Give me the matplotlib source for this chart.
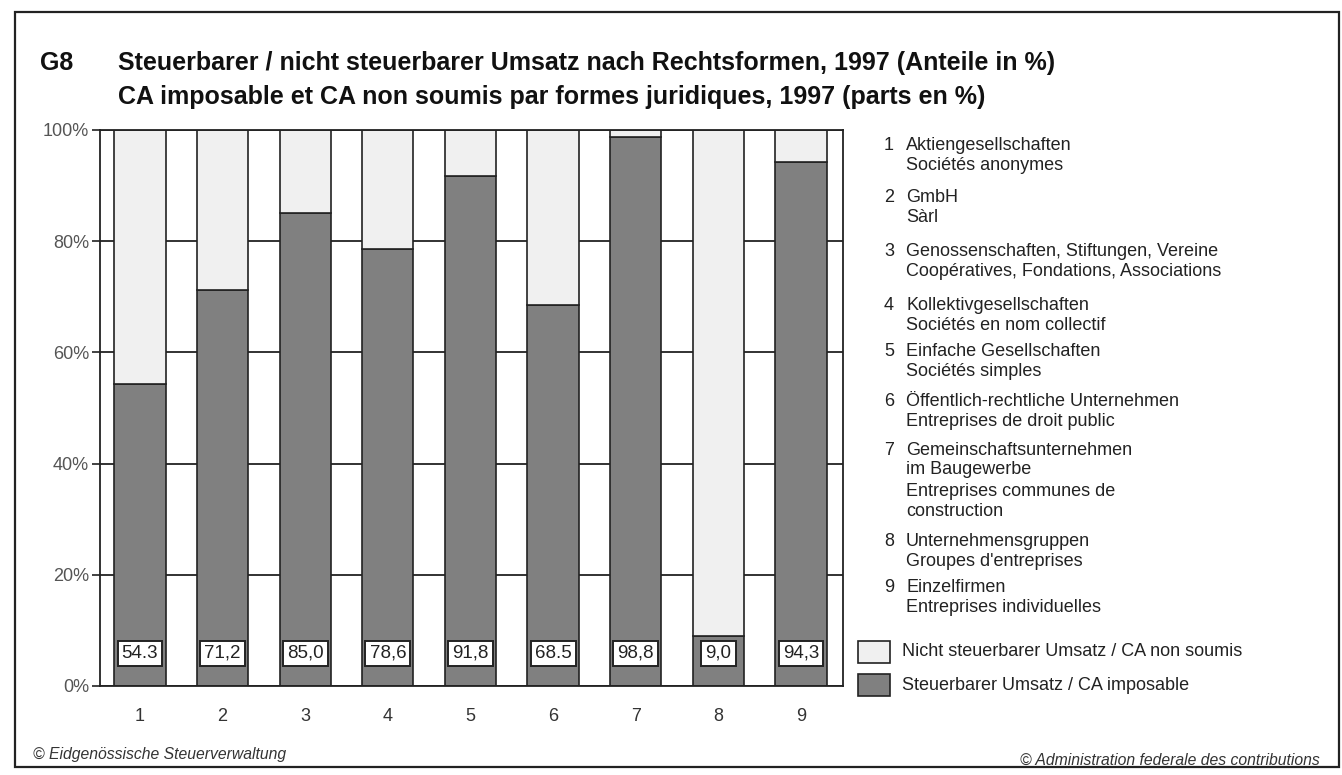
import matplotlib
matplotlib.use('Agg')
import matplotlib.pyplot as plt
from matplotlib.patches import Rectangle
import numpy as np

plt.rcParams['font.family'] = ['Liberation Sans', 'DejaVu Sans']

# data
categories = ['1', '2', '3', '4', '5', '6', '7', '8', '9']
taxable = [54.3, 71.2, 85.0, 78.6, 91.8, 68.5, 98.8, 9.0, 94.3]
value_labels = ['54.3', '71,2', '85,0', '78,6', '91,8', '68.5', '98,8', '9,0', '94,3']
legend_items = [
    ('1', ['Aktiengesellschaften', 'Sociétés anonymes']),
    ('2', ['GmbH', 'Sàrl']),
    ('3', ['Genossenschaften, Stiftungen, Vereine', 'Coopératives, Fondations, Associations']),
    ('4', ['Kollektivgesellschaften', 'Sociétés en nom collectif']),
    ('5', ['Einfache Gesellschaften', 'Sociétés simples']),
    ('6', ['Öffentlich-rechtliche Unternehmen', 'Entreprises de droit public']),
    ('7', ['Gemeinschaftsunternehmen', 'im Baugewerbe', 'Entreprises communes de', 'construction']),
    ('8', ['Unternehmensgruppen', "Groupes d'entreprises"]),
    ('9', ['Einzelfirmen', 'Entreprises individuelles']),
]
series_names = ['Nicht steuerbarer Umsatz / CA non soumis', 'Steuerbarer Umsatz / CA imposable']
yticks = [0, 20, 40, 60, 80, 100]

dark = '#808080'
light = '#f0f0f0'

W, H = 1342, 775
fig = plt.figure(figsize=(W / 100, H / 100), dpi=100)

def fx(px):
    return px / W

def fy(py):
    return 1 - py / H

# frame around everything
fig.add_artist(Rectangle((fx(15), fy(767)), fx(1339) - fx(15), fy(12) - fy(767),
                         transform=fig.transFigure, fill=False, edgecolor='#222222', lw=1.6))

# title
title_kw = dict(fontsize=18, fontweight='bold', va='center', ha='left', color='#111111')
fig.text(fx(40), fy(63), 'G8', **title_kw)
fig.text(fx(118), fy(63), 'Steuerbarer / nicht steuerbarer Umsatz nach Rechtsformen, 1997 (Anteile in %)', **title_kw)
fig.text(fx(118), fy(97), 'CA imposable et CA non soumis par formes juridiques, 1997 (parts en %)', **title_kw)

ax = fig.add_axes([fx(100), fy(686), fx(843) - fx(100), fy(130) - fy(686)])
x = np.arange(1, len(categories) + 1)
rest = [100 - v for v in taxable]

ax.set_axisbelow(True)
ax.yaxis.grid(True, color='#222222', lw=1.3)
ax.bar(x, taxable, width=0.62, color=dark, edgecolor='#222222', lw=1.2, zorder=2)
ax.bar(x, rest, bottom=taxable, width=0.62, color=light, edgecolor='#222222', lw=1.2, zorder=2)

for xi, lab in zip(x, value_labels):
    ax.text(xi, 5.9, lab, ha='center', va='center', fontsize=13.5, color='#222222', zorder=4,
            bbox=dict(boxstyle='square,pad=0.22', facecolor='white', edgecolor='#222222', lw=1.4))

ax.set_xlim(0.517, 9.508)
ax.set_ylim(0, 100)
ax.set_yticks(yticks)
ax.set_yticklabels([f'{t}%' for t in yticks], fontsize=13, color='#555555')
ax.set_xticks(x)
ax.set_xticklabels(categories, fontsize=13, color='#333333')
ax.tick_params(axis='x', length=0, pad=16)
ax.tick_params(axis='y', length=6, width=1.2, color='#222222', pad=2)
for s in ax.spines.values():
    s.set_color('#222222')
    s.set_linewidth(1.3)

# legend text on the right
ys = [[146, 166], [197, 217], [252, 272], [306, 326], [352, 372], [402, 422],
      [450, 470, 491, 512], [541, 561], [588, 608]]
for (num, lines), yl in zip(legend_items, ys):
    fig.text(fx(894), fy(yl[0]), num, fontsize=13, ha='right', va='center', color='#222222')
    for line, yy in zip(lines, yl):
        fig.text(fx(906), fy(yy), line, fontsize=13, ha='left', va='center', color='#222222')

for name, col, yy in zip(series_names, [light, dark], [652, 685]):
    fig.add_artist(Rectangle((fx(858), fy(yy + 11)), fx(32), fy(0) - fy(22),
                             transform=fig.transFigure, facecolor=col, edgecolor='#222222', lw=1.2))
    fig.text(fx(902), fy(yy), name, fontsize=13, ha='left', va='center', color='#222222')

# footer
fig.text(fx(33), fy(755), '© Eidgenössische Steuerverwaltung', fontsize=11.3, style='italic',
         ha='left', va='center', color='#333333')
fig.text(fx(1320), fy(760), '© Administration federale des contributions', fontsize=11.3, style='italic',
         ha='right', va='center', color='#333333')

fig.savefig('out.png', dpi=100)
